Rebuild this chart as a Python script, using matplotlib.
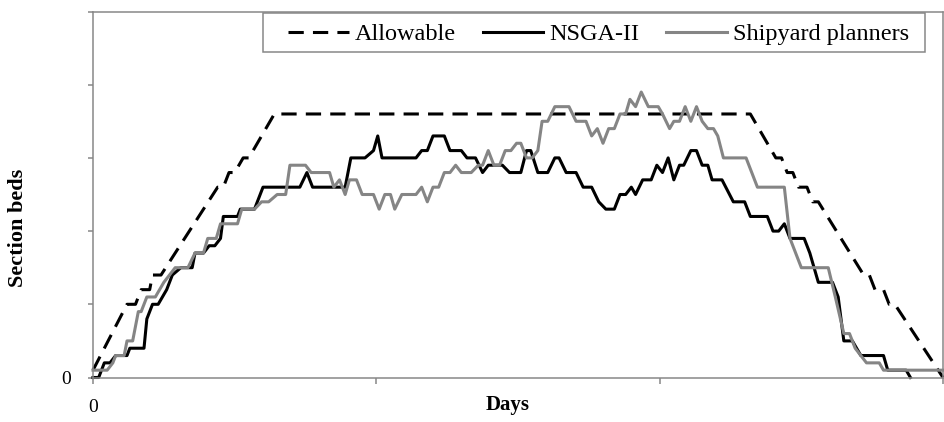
import matplotlib
matplotlib.use("Agg")
import matplotlib.pyplot as plt
from matplotlib.patches import Rectangle

# Allowable number of section beds over the schedule (days)
allow_days = [0, 12, 15, 17, 20, 21, 24, 44, 46, 48, 50, 53, 55, 64,
              232, 241, 243, 245, 247, 249, 252, 254, 256, 272, 274, 276,
              279, 281, 283, 300]
allow_beds = [1, 10, 10, 12, 12, 14, 14, 26, 26, 28, 28, 30, 30, 36,
              36, 30, 30, 28, 28, 26, 26, 24, 24, 14, 14, 12, 12,
              10, 10, 0]

# Beds in use, NSGA-II schedule
nsga_days = [0, 2, 4, 6, 8, 12, 13, 18, 19, 21,
             23, 26, 28, 31, 35, 36, 39, 41, 43, 45,
             46, 51, 52, 57, 60, 73, 75.5, 77.5, 89, 91,
             96, 99, 100.5, 102, 114, 116, 118, 120, 124, 126,
             130, 132, 135, 137.5, 139.5, 144.5, 147, 151, 153, 154.5,
             157, 160.5, 163, 164.5, 167, 170.5, 173, 176, 178.5, 181,
             184, 186, 188, 190, 191.5, 194, 197, 199, 201, 203,
             205, 207, 208.5, 211, 213, 215, 217, 218.5, 222, 226,
             230, 232, 238, 240, 242, 244, 246, 251, 253, 254.5,
             256, 261, 263, 265, 268, 271, 279, 280.5, 287, 288.5]
nsga_beds = [0, 0, 2, 2, 3, 3, 4, 4, 8, 10,
             10, 12, 14, 15, 15, 17, 17, 18, 18, 19,
             22, 22, 23, 23, 26, 26, 28, 26, 26, 30,
             30, 31, 33, 30, 30, 31, 31, 33, 33, 31,
             31, 30, 30, 28, 29, 29, 28, 28, 31, 31,
             28, 28, 30, 30, 28, 28, 26, 26, 24, 23,
             23, 25, 25, 26, 25, 27, 27, 29, 28, 30,
             27, 29, 29, 31, 31, 29, 29, 27, 27, 24,
             24, 22, 22, 20, 20, 21, 19, 19, 17, 15,
             13, 13, 11, 5, 5, 3, 3, 1, 1, 0]

# Beds in use, shipyard planners' schedule
ship_days = [0, 5, 7, 8, 11, 12, 14, 16, 17, 19,
             22, 25, 27, 29, 33.5, 36, 39, 40.5, 43.5, 45,
             51, 52.5, 57, 59.5, 62, 65, 68, 69.5, 75, 77,
             83.5, 85, 87, 89, 90.5, 93, 95, 99, 101, 103,
             105, 106.5, 109, 114, 116, 118, 120, 122, 124, 126,
             128, 130, 133.5, 136, 137.5, 139.5, 141.5, 143.5, 145.5, 147.5,
             149.5, 151, 153, 155, 157, 158.5, 160.5, 163, 168, 170.5,
             174, 176, 178, 180, 182, 184, 186, 188, 189.5, 191.5,
             193.5, 196, 199.5, 201, 203.5, 205, 207, 209, 211, 213,
             215, 217, 219, 220.5, 222.5, 230.5, 234.5, 244, 246, 250,
             259.5, 262, 265, 267, 269, 271, 273, 277.5, 279, 300]
ship_beds = [1, 1, 2, 3, 3, 5, 5, 9, 9, 11,
             11, 13, 14, 15, 15, 17, 17, 19, 19, 21,
             21, 23, 23, 24, 24, 25, 25, 29, 29, 28,
             28, 26, 27, 25, 27, 27, 25, 25, 23, 25,
             25, 23, 25, 25, 26, 24, 26, 26, 28, 28,
             29, 28, 28, 29, 29, 31, 29, 29, 31, 31,
             32, 32, 30, 30, 31, 35, 35, 37, 37, 35,
             35, 33, 34, 32, 34, 34, 36, 36, 38, 37,
             39, 37, 37, 36, 34, 35, 35, 37, 35, 37,
             35, 34, 34, 33, 30, 30, 26, 26, 19, 15,
             15, 11, 6, 6, 4, 3, 2, 2, 1, 1]

x_ticks = [0, 100, 200, 300]
x_tick_labels = ["0", "", "", ""]
y_ticks = [0, 10, 20, 30, 40, 50]
y_tick_labels = ["0", "", "", "", "", ""]

plt.rcParams["font.family"] = ["Liberation Serif", "DejaVu Serif"]

W, H = 944, 422
fig = plt.figure(figsize=(W / 100, H / 100), dpi=100)
ax = fig.add_axes([93 / W, 44.5 / H, 850 / W, 366 / H])

frame_col = "#878787"
lw = 2.2
l_allow, = ax.plot(allow_days, allow_beds, color="black", lw=lw,
                   dashes=(5, 3), clip_on=False, label="Allowable")
l_nsga, = ax.plot(nsga_days, nsga_beds, color="black", lw=lw,
                  clip_on=False, label="NSGA-II")
l_ship, = ax.plot(ship_days, ship_beds, color="#858585", lw=lw,
                  clip_on=False, label="Shipyard planners")

ax.set_xlim(0, 300)
ax.set_ylim(0, 50)
ax.set_xticks(x_ticks)
ax.set_xticklabels(x_tick_labels)
ax.set_yticks(y_ticks)
ax.set_yticklabels(y_tick_labels)

for s in ax.spines.values():
    s.set_color(frame_col)
    s.set_linewidth(1.1)
ax.tick_params(axis="x", direction="out", length=4.5, width=1.1,
               color=frame_col, labelsize=14, pad=11)
ax.tick_params(axis="y", direction="out", length=3.6, width=1.1,
               color=frame_col, labelsize=14, pad=12)

fig.text(508 / W, 1 - 405 / H, "Days", ha="center", va="center",
         fontsize=15, fontweight="bold")
fig.text(18 / W, 1 - 228 / H, "Section beds", ha="center", va="center",
         rotation=90, fontsize=16, fontweight="bold")

# Legend entries, with a separate frame drawn around them
fs_leg = 17.5
pad = 0.4
leg = fig.legend(handles=[l_allow, l_nsga, l_ship], loc="upper left",
                 bbox_to_anchor=((288 - pad * fs_leg * 100 / 72) / W,
                                 1 - 13.5 / H),
                 ncol=3, fontsize=fs_leg, frameon=False,
                 handlelength=2.5, handletextpad=0.25, columnspacing=1.1,
                 borderpad=pad, borderaxespad=0)
fig.add_artist(Rectangle((263 / W, 1 - 52 / H), (925 - 263) / W, 39 / H,
                         transform=fig.transFigure, fill=False,
                         edgecolor=frame_col, linewidth=1.1))

fig.savefig("out.png", dpi=100)
